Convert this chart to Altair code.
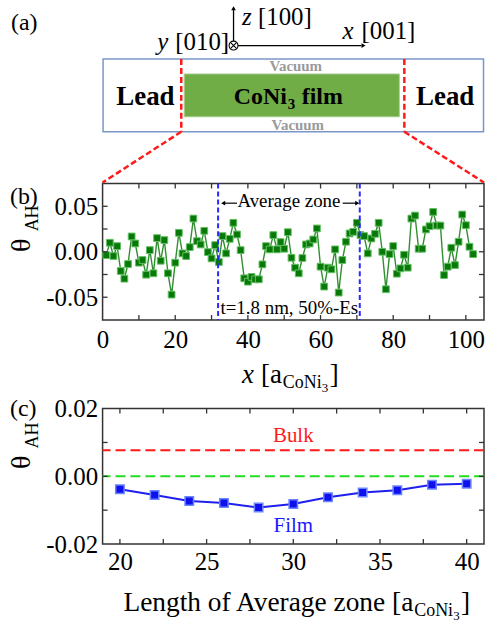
import altair as alt
import pandas as pd

FONT = "Liberation Serif"

# ---------------- data ----------------
# panel (b): theta_AH at each lattice site along the film
site = list(range(1, 103))
theta_site = [
    -0.0037, 0.0099, -0.0047, 0.0062, -0.0212, -0.0296, -0.0135, 0.0168, 0.0091, -0.0120,
    -0.0091, -0.0252, 0.0018, -0.0237, 0.0150, -0.0099, 0.0128, -0.0237, -0.0471, -0.0120,
    0.0208, -0.0018, -0.0047, 0.0051, 0.0365, 0.0117, 0.0080, 0.0230, -0.0004, -0.0073,
    0.0073, -0.0113, 0.0172, -0.0018, 0.0142, 0.0318, 0.0190, 0.0018, -0.0292, -0.0329,
    -0.0277, -0.0303, -0.0303, -0.0139, 0.0062, 0.0026, 0.0183, 0.0026, 0.0106, 0.0033,
    0.0215, -0.0066, -0.0175, -0.0237, -0.0069, 0.0080, 0.0091, 0.0135, 0.0256, -0.0164,
    -0.0383, -0.0175, -0.0193, 0.0026, -0.0449, -0.0091, 0.0110, 0.0201, 0.0219, 0.0318,
    0.0183, 0.0172, -0.0018, 0.0146, 0.0197, 0.0318, 0.0000, -0.0412, -0.0026, 0.0062,
    -0.0241, -0.0183, -0.0033, -0.0175, 0.0365, 0.0398, 0.0033, 0.0033, 0.0245, 0.0281,
    0.0438, 0.0288, 0.0288, -0.0256, -0.0164, 0.0044, -0.0146, 0.0110, 0.0409, 0.0292,
    0.0055, -0.0026,
]
zone_edges = [31.8, 70.8]
zone_notes = ["Average zone", "t=1.8 nm, 50%-Es"]

# panel (c): averaged theta_AH vs. length of the average zone
zone_length = [20, 22, 24, 26, 28, 30, 32, 34, 36, 38, 40]
theta_film = [-0.0038, -0.0055, -0.0073, -0.0079, -0.0092, -0.0082,
              -0.0062, -0.0048, -0.0041, -0.0025, -0.0022]
theta_bulk = 0.0077
ref_levels = [theta_bulk, 0.0]
ref_labels = ["Bulk", "Film"]

# tick values
b_xlabels = [0, 20, 40, 60, 80, 100]
b_xticks = [10, 20, 30, 40, 50, 60, 70, 80, 90, 100]
b_ylabels = [-0.05, 0.0, 0.05]
b_yticks = [-0.05, -0.025, 0.0, 0.025, 0.05]
c_xlabels = [20, 25, 30, 35, 40]
c_xticks = [20, 22.5, 25, 27.5, 30, 32.5, 35, 37.5, 40]
c_ylabels = [-0.02, 0.0, 0.02]
c_yticks = [-0.01, 0.0, 0.01]

# ---------------- layout ----------------
W, HB, HC = 383, 137, 136
OX, OY = 102, 182          # page position of panel (b) plot origin
TK = 5                     # inward tick length
LFS = 25                   # tick label font size

xb = alt.Scale(domain=[0, 105], nice=False, zero=False)
yb = alt.Scale(domain=[-0.075, 0.075], nice=False)
xc = alt.Scale(domain=[19, 41], nice=False, zero=False)
yc = alt.Scale(domain=[-0.02, 0.02], nice=False)

LBL = "datum.value < 0 ? '-' + format(-datum.value, '.2f') : format(datum.value, '.2f')"


def ax(values, pad, expr=None, fmt=None):
    kw = dict(values=values, title=None, ticks=False, tickSize=0, domain=False, grid=False,
              labelFont=FONT, labelFontSize=LFS, labelColor="black", labelPadding=pad,
              labelFlush=False, labelOverlap=False)
    if expr:
        kw["labelExpr"] = expr
    if fmt:
        kw["format"] = fmt
    return alt.Axis(**kw)


def ptxt(rows, size, color="black", weight="normal", style="normal", align="left",
         angle=0, baseline="alphabetic", dx=0, dy=0):
    df = pd.DataFrame(rows, columns=["x", "y", "t"])
    df["x"] = df["x"] - dx
    df["y"] = df["y"] - dy
    return alt.Chart(df).mark_text(
        font=FONT, fontSize=size, color=color, fontWeight=weight, fontStyle=style,
        align=align, angle=angle, baseline=baseline
    ).encode(x=alt.X("x:Q", scale=None, axis=None),
             y=alt.Y("y:Q", scale=None, axis=None),
             text="t:N")


def pix_rules(rows, **kw):
    df = pd.DataFrame(rows, columns=["x", "y", "x2", "y2"])
    df["x"] -= OX
    df["x2"] -= OX
    df["y"] -= OY
    df["y2"] -= OY
    return alt.Chart(df).mark_rule(**kw).encode(
        x=alt.X("x:Q", scale=None, axis=None), y=alt.Y("y:Q", scale=None, axis=None),
        x2="x2:Q", y2="y2:Q")


def frame_ticks(xs, ys, xscale, yscale, h):
    c = "#333333"
    l = alt.Chart(pd.DataFrame({"v": ys})).mark_rule(color=c, strokeWidth=1.3).encode(
        y=alt.Y("v:Q", scale=yscale, title=None), x=alt.value(0), x2=alt.value(TK))
    r = alt.Chart(pd.DataFrame({"v": ys})).mark_rule(color=c, strokeWidth=1.3).encode(
        y=alt.Y("v:Q", scale=yscale, title=None), x=alt.value(W - TK), x2=alt.value(W))
    b = alt.Chart(pd.DataFrame({"v": xs})).mark_rule(color=c, strokeWidth=1.3).encode(
        x=alt.X("v:Q", scale=xscale, title=None), y=alt.value(h - TK), y2=alt.value(h))
    t = alt.Chart(pd.DataFrame({"v": xs})).mark_rule(color=c, strokeWidth=1.3).encode(
        x=alt.X("v:Q", scale=xscale, title=None), y=alt.value(0), y2=alt.value(TK))
    return [l, r, b, t]


# ---------------- panel (a) diagram (drawn above panel b) ----------------
box = pd.DataFrame({"x": [102.5 - OX], "x2": [484.5 - OX], "y": [57 - OY], "y2": [130 - OY]})
box_l = alt.Chart(box).mark_rect(fillOpacity=0, stroke="#7a96c8", strokeWidth=1.5).encode(
    x=alt.X("x:Q", scale=None, axis=None), x2="x2:Q",
    y=alt.Y("y:Q", scale=None, axis=None), y2="y2:Q")
film = pd.DataFrame({"x": [184 - OX], "x2": [400 - OX], "y": [72 - OY], "y2": [115 - OY]})
film_l = alt.Chart(film).mark_rect(fill="#70ad47", stroke="#a8cf90", strokeWidth=1).encode(
    x=alt.X("x:Q", scale=None, axis=None), x2="x2:Q",
    y=alt.Y("y:Q", scale=None, axis=None), y2="y2:Q")

red_l = pix_rules([(181, 57, 181, 130), (405, 57, 405, 130),
                   (181, 130, 102, 181), (405, 130, 485, 181)],
                  color="#ff1a1a", strokeWidth=2.5, strokeDash=[6, 3])
axes_l = pix_rules([(233.5, 39, 233.5, 7), (238, 43.5, 362, 43.5)],
                   color="black", strokeWidth=1.3)
heads = pd.DataFrame({"x": [233.5 - OX, 364 - OX], "y": [6 - OY, 43.5 - OY],
                      "s": ["triangle-up", "triangle-right"]})
heads_l = alt.Chart(heads).mark_point(filled=True, color="black", size=22, opacity=1).encode(
    x=alt.X("x:Q", scale=None, axis=None), y=alt.Y("y:Q", scale=None, axis=None),
    shape=alt.Shape("s:N", scale=None))
otimes = pd.DataFrame({"x": [233.5 - OX, 233.5 - OX], "y": [43.5 - OY, 43.5 - OY],
                       "s": ["circle", "M-0.7,-0.7L0.7,0.7M-0.7,0.7L0.7,-0.7"]})
otimes_l = alt.Chart(otimes).mark_point(filled=False, color="black", size=80,
                                        strokeWidth=1.1, opacity=1).encode(
    x=alt.X("x:Q", scale=None, axis=None), y=alt.Y("y:Q", scale=None, axis=None),
    shape=alt.Shape("s:N", scale=None))

diag_txt = [
    ptxt([(10, 28, "(a)"), (9, 203, "(b)")], 24, dx=OX, dy=OY),
    ptxt([(242, 23, "z"), (343, 37, "x"), (157, 48, "y")], 25, style="italic", dx=OX, dy=OY),
    ptxt([(258, 23, "[100]"), (362, 37, "[001]"), (175, 48, "[010]")], 25, dx=OX, dy=OY),
    ptxt([(145, 103, "Lead"), (446, 103, "Lead")], 27, weight="bold", align="center", dx=OX, dy=OY),
    ptxt([(287, 102, "CoNi")], 24, weight="bold", align="right", dx=OX, dy=OY),
    ptxt([(288, 107, "3")], 15, weight="bold", dx=OX, dy=OY),
    ptxt([(302, 102, "film")], 24, weight="bold", dx=OX, dy=OY),
    ptxt([(296, 69, "Vacuum"), (298, 128, "Vacuum")], 15, weight="bold", color="#9a9a9a",
         align="center", dx=OX, dy=OY),
]

# ---------------- panel (b) ----------------
df_b = pd.DataFrame({"x": site, "t": theta_site})
line_b = alt.Chart(df_b).mark_line(color="#2f8f2f", strokeWidth=1.4).encode(
    x=alt.X("x:Q", scale=xb, axis=ax(b_xlabels, 8, fmt="d")),
    y=alt.Y("t:Q", scale=yb, axis=ax(b_ylabels, 5, expr=LBL)))
pts_b = alt.Chart(df_b).mark_square(size=46, fill="#087808", stroke="#62c062",
                                    strokeWidth=1, opacity=1).encode(
    x=alt.X("x:Q", title=None), y=alt.Y("t:Q", title=None))
zone_b = alt.Chart(pd.DataFrame({"z": zone_edges})).mark_rule(
    color="#2a2aff", strokeWidth=2, strokeDash=[5, 3]).encode(x=alt.X("z:Q", title=None))
shaft_b = alt.Chart(pd.DataFrame({"a": [33.2, 66.1], "a2": [37.0, 70.0],
                                  "y": [0.0534, 0.0534]})).mark_rule(
    color="black", strokeWidth=1.2).encode(
    x=alt.X("a:Q", title=None), x2="a2:Q", y=alt.Y("y:Q", title=None))
head_b = alt.Chart(pd.DataFrame({"a": [33.2, 70.1], "y": [0.0534, 0.0534],
                                 "s": ["triangle-left", "triangle-right"]})).mark_point(
    filled=True, color="black", size=22, opacity=1).encode(
    x=alt.X("a:Q", title=None), y=alt.Y("y:Q", title=None),
    shape=alt.Shape("s:N", scale=None))
note_b = alt.Chart(pd.DataFrame({"x": [51.3, 51.4], "y": [0.049, -0.068], "t": zone_notes})).mark_text(
    font=FONT, fontSize=19, color="black", baseline="alphabetic").encode(
    x=alt.X("x:Q", title=None), y=alt.Y("y:Q", title=None), text="t:N")

title_b = [
    ptxt([(-81, 62, "θ")], 28, angle=270, align="center", baseline="middle"),
    ptxt([(-70, 35, "AH")], 18, angle=270, align="center", baseline="middle"),
    ptxt([(152, 200, "x")], 27, style="italic", align="right"),
    ptxt([(180, 200, " [a")], 27, align="right"),
    ptxt([(181, 205, "CoNi")], 18),
    ptxt([(220, 209, "3")], 13),
    ptxt([(228, 200, "]")], 27),
]

bounds_b = alt.Chart(pd.DataFrame({"d": [0]})).mark_rule(strokeOpacity=0, color="white").encode(
    x=alt.value(-OX), x2=alt.value(W + 1), y=alt.value(-OY), y2=alt.value(-OY))

panel_b = alt.layer(
    line_b, pts_b, zone_b, shaft_b, head_b, note_b,
    *frame_ticks(b_xticks, b_yticks, xb, yb, HB),
    box_l, film_l, red_l, axes_l, heads_l, otimes_l, *diag_txt, *title_b, bounds_b,
).properties(width=W, height=HB)

# ---------------- panel (c) ----------------
df_c = pd.DataFrame({"L": zone_length, "t": theta_film})
refs = pd.DataFrame({"v": ref_levels, "c": ["#ff1a1a", "#22dd22"]})
ref_c = alt.Chart(refs).mark_rule(strokeWidth=2, strokeDash=[10, 5]).encode(
    y=alt.Y("v:Q", scale=yc, axis=ax(c_ylabels, 5, expr=LBL)),
    color=alt.Color("c:N", scale=None))
line_c = alt.Chart(df_c).mark_line(color="#1f1fee", strokeWidth=2).encode(
    x=alt.X("L:Q", scale=xc, axis=ax(c_xlabels, 6, fmt="d")),
    y=alt.Y("t:Q", title=None))
pts_c = alt.Chart(df_c).mark_square(size=72, fill="#1010ee", stroke="#6a86ff",
                                    strokeWidth=1.5, opacity=1).encode(
    x=alt.X("L:Q", title=None), y=alt.Y("t:Q", title=None))
lab_c = alt.Chart(pd.DataFrame({"x": [30, 30], "y": [0.0101, -0.0163], "t": ref_labels,
                                "c": ["#ff1a1a", "#1a1aff"]})).mark_text(
    font=FONT, fontSize=21, baseline="alphabetic").encode(
    x=alt.X("x:Q", title=None), y=alt.Y("y:Q", title=None), text="t:N",
    color=alt.Color("c:N", scale=None))

title_c = [
    ptxt([(-93, 7, "(c)")], 24),
    ptxt([(-81, 54, "θ")], 28, angle=270, align="center", baseline="middle"),
    ptxt([(-70, 27, "AH")], 18, angle=270, align="center", baseline="middle"),
    ptxt([(312, 203, "Length of Average zone [a")], 27.5, align="right"),
    ptxt([(313, 208, "CoNi")], 18),
    ptxt([(352, 212, "3")], 13),
    ptxt([(360, 203, "]")], 27.5),
]
bounds_c = alt.Chart(pd.DataFrame({"d": [0]})).mark_rule(strokeOpacity=0, color="white").encode(
    x=alt.value(-OX), x2=alt.value(W + 1), y=alt.value(215), y2=alt.value(215))

panel_c = alt.layer(
    ref_c, line_c, pts_c, lab_c,
    *frame_ticks(c_xticks, c_yticks, xc, yc, HC),
    *title_c, bounds_c,
).properties(width=W, height=HC)

chart = alt.vconcat(panel_b, panel_c, spacing=89, bounds="flush", padding=0).configure_view(
    stroke="#333333", strokeWidth=1.5)

chart.save("out.html", embed_options={"renderer": "svg", "actions": False})
